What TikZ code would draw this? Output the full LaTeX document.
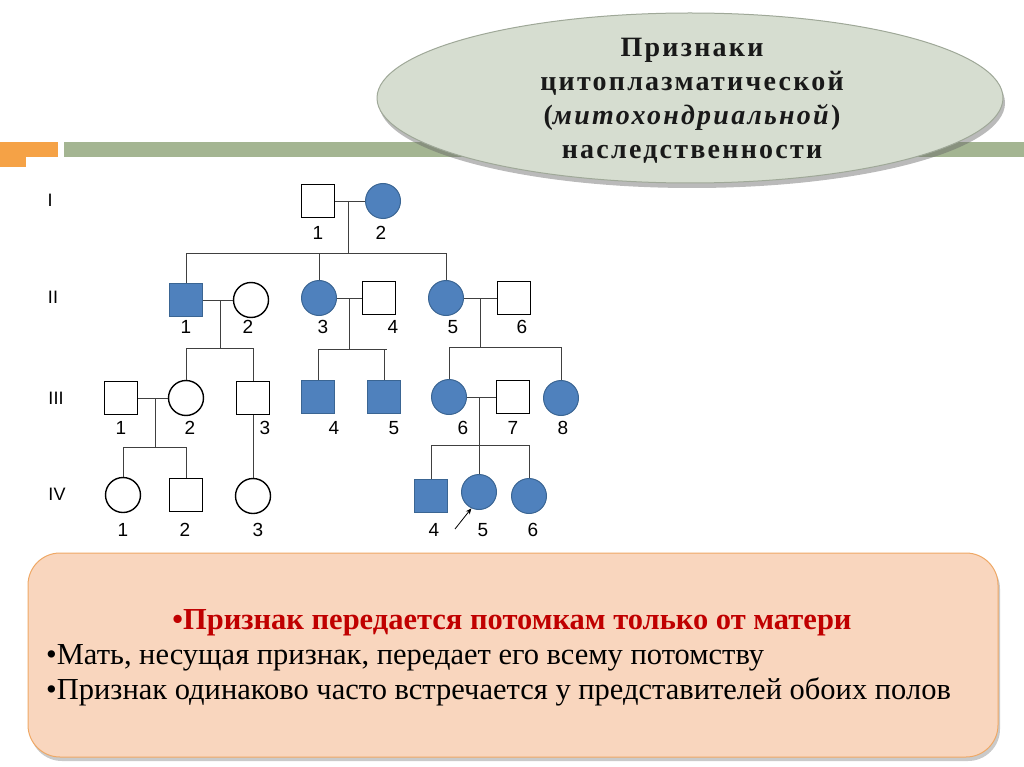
\documentclass[tikz,border=0pt]{standalone}
\usepackage{fontspec}
\setmainfont{Liberation Serif}
\newfontfamily\sansf{Liberation Sans}
\newfontfamily\titlef[LetterSpace=8]{Liberation Serif}
\usetikzlibrary{shapes.geometric,shadows,arrows.meta,calc}
\definecolor{pedblue}{HTML}{4F81BD}
\definecolor{pededge}{HTML}{3A6593}
\definecolor{barorange}{HTML}{F5A246}
\definecolor{bargreen}{HTML}{A4B592}
\definecolor{ellfill}{HTML}{D6DDD0}
\definecolor{elledge}{HTML}{9FA898}
\definecolor{boxfill}{HTML}{F9D6BE}
\definecolor{boxedge}{HTML}{EFA865}
\definecolor{redtext}{HTML}{C00000}
\definecolor{lncol}{HTML}{404040}
\tikzset{
  male/.style={rectangle, draw=black, line width=1.4pt, fill=white, minimum size=33pt, inner sep=0pt},
  female/.style={circle, draw=black, line width=1.4pt, fill=white, minimum size=35pt, inner sep=0pt},
  aff/.style={fill=pedblue, draw=pededge, line width=1pt},
  ln/.style={draw=lncol, line width=0.9pt},
  num/.style={font=\sansf\fontsize{19}{19}\selectfont, inner sep=0pt},
  gen/.style={font=\sansf\fontsize{18}{18}\selectfont, inner sep=0pt},
}
\begin{document}
\begin{tikzpicture}[x=1pt,y=-1pt]
\useasboundingbox (0,0) rectangle (1024,767);
% bars
\fill[barorange] (0,142) rectangle (58,157);
\fill[barorange] (0,157) rectangle (26,167);
\fill[bargreen] (64,142) rectangle (1024,157);
% title ellipse
\node[ellipse, draw=elledge, line width=1pt, fill=ellfill, minimum width=626pt, minimum height=170pt,
      drop shadow={shadow xshift=2pt, shadow yshift=-5pt, opacity=0.45, fill=black!60}] (title) at (690,98) {};
\node[font=\titlef\bfseries\fontsize{28}{34}\selectfont, align=center, text=black!90] (titletext) at (692,101)
  {Признаки\\цитоплазматической\\(\textit{митохондриальной})\\наследственности};
% generation labels
\node[gen] (gI) at (50,200) {I};
\node[gen] (gII) at (53,297) {II};
\node[gen] (gIII) at (56,398) {III};
\node[gen] (gIV) at (57,494) {IV};
% generation I
\node[male] (I1) at (318,201) {};
\node[female, aff] (I2) at (383,201) {};
% generation II
\node[male, aff] (II1) at (186,300) {};
\node[female] (II2) at (251,300) {};
\node[female, aff] (II3) at (319,298) {};
\node[male] (II4) at (379,298) {};
\node[female, aff] (II5) at (446,298) {};
\node[male] (II6) at (514,298) {};
% generation III
\node[male] (III1) at (121,398) {};
\node[female] (III2) at (186,398) {};
\node[male] (III3) at (253,398) {};
\node[male, aff] (III4) at (318,397) {};
\node[male, aff] (III5) at (384,397) {};
\node[female, aff] (III6) at (449,397) {};
\node[male] (III7) at (513,397) {};
\node[female, aff] (III8) at (561,398) {};
% generation IV
\node[female] (IV1) at (123,495) {};
\node[male] (IV2) at (186,495) {};
\node[female] (IV3) at (253,496) {};
\node[male, aff] (IV4) at (431,496) {};
\node[female, aff] (IV5) at (479,492) {};
\node[female, aff] (IV6) at (529,496) {};
% labels
\node[num] (nI1) at (318,233) {1};
\node[num] (nI2) at (381,233) {2};
\node[num] (nII1) at (186,327) {1};
\node[num] (nII2) at (248,327) {2};
\node[num] (nII3) at (323,327) {3};
\node[num] (nII4) at (393,327) {4};
\node[num] (nII5) at (453,327) {5};
\node[num] (nII6) at (522,327) {6};
\node[num] (nIII1) at (121,428) {1};
\node[num] (nIII2) at (190,428) {2};
\node[num] (nIII3) at (265,428) {3};
\node[num] (nIII4) at (334,428) {4};
\node[num] (nIII5) at (394,428) {5};
\node[num] (nIII6) at (463,428) {6};
\node[num] (nIII7) at (513,428) {7};
\node[num] (nIII8) at (563,428) {8};
\node[num] (nIV1) at (123,530) {1};
\node[num] (nIV2) at (185,530) {2};
\node[num] (nIV3) at (258,530) {3};
\node[num] (nIV4) at (434,530) {4};
\node[num] (nIV5) at (483,530) {5};
\node[num] (nIV6) at (533,530) {6};
% marriage and descent coordinates
\coordinate (m1) at (348,201);  \coordinate (s1) at (348,253);
\coordinate (m2) at (220,300);  \coordinate (s2) at (220,348);
\coordinate (m3) at (349,298);  \coordinate (s3) at (349,350);
\coordinate (m4) at (480,298);  \coordinate (s4) at (480,347);
\coordinate (m5) at (155,398);  \coordinate (s5) at (155,447);
\coordinate (m6) at (479,397);  \coordinate (s6) at (479,445);
\coordinate (s3r) at (387,349);
% I
\draw[ln] (I1.east) -- (I2.west);
\draw[ln] (m1) -- (s1);
\draw[ln] (II1.north |- s1) -- (II5.north |- s1);
\draw[ln] (II1.north) -- (II1.north |- s1);
\draw[ln] (II3.north) -- (II3.north |- s1);
\draw[ln] (II5.north) -- (II5.north |- s1);
% II1 x II2
\draw[ln] (II1.east) -- (II2.west);
\draw[ln] (m2) -- (s2);
\draw[ln] (III2.north |- s2) -- (III3.north |- s2);
\draw[ln] (III2.north) -- (III2.north |- s2);
\draw[ln] (III3.north) -- (III3.north |- s2);
% II3 x II4
\draw[ln] (II3.east) -- (II4.west);
\draw[ln] (m3) -- (s3);
\draw[ln] (III4.north |- s3r) -- (s3r);
\draw[ln] (III4.north) -- (III4.north |- s3r);
\draw[ln] (III5.north) -- (III5.north |- s3r);
% II5 x II6
\draw[ln] (II5.east) -- (II6.west);
\draw[ln] (m4) -- (s4);
\draw[ln] (III6.north |- s4) -- (III8.north |- s4);
\draw[ln] (III6.north) -- (III6.north |- s4);
\draw[ln] (III8.north) -- (III8.north |- s4);
% III1 x III2
\draw[ln] (III1.east) -- (III2.west);
\draw[ln] (m5) -- (s5);
\draw[ln] (IV1.north |- s5) -- (IV2.north |- s5);
\draw[ln] (IV1.north) -- (IV1.north |- s5);
\draw[ln] (IV2.north) -- (IV2.north |- s5);
% III3 -> IV3
\draw[ln] (III3.south) -- (IV3.north);
% III6 x III7
\draw[ln] (III6.east) -- (III7.west);
\draw[ln] (m6) -- (IV5.north);
\draw[ln] (IV4.north |- s6) -- (IV6.north |- s6);
\draw[ln] (IV4.north) -- (IV4.north |- s6);
\draw[ln] (IV6.north) -- (IV6.north |- s6);
% proband arrow
\coordinate (arrtail) at (455,529);
\draw[black, line width=0.8pt, -{Stealth[length=6pt,width=5pt]}] (arrtail) -- (IV5.245);
% bottom box
\node[rectangle, rounded corners=32pt, draw=boxedge, line width=1pt, fill=boxfill,
      minimum width=970pt, minimum height=204pt,
      drop shadow={shadow xshift=2pt, shadow yshift=-4pt, opacity=0.35, fill=black!60}] (box) at (513,655) {};
\node[font=\bfseries\fontsize{30.5}{30.5}\selectfont, text=redtext, inner sep=0pt] (t1) at (512,623)
  {•Признак передается потомкам только от матери};
\node[font=\fontsize{30.5}{30.5}\selectfont, anchor=west, inner sep=0pt] (t2) at (46,658)
  {•Мать, несущая признак, передает его всему потомству};
\node[font=\fontsize{30.5}{30.5}\selectfont, anchor=west, inner sep=0pt] (t3) at (46,692)
  {•Признак одинаково часто встречается у представителей обоих полов};
\end{tikzpicture}
\end{document}
